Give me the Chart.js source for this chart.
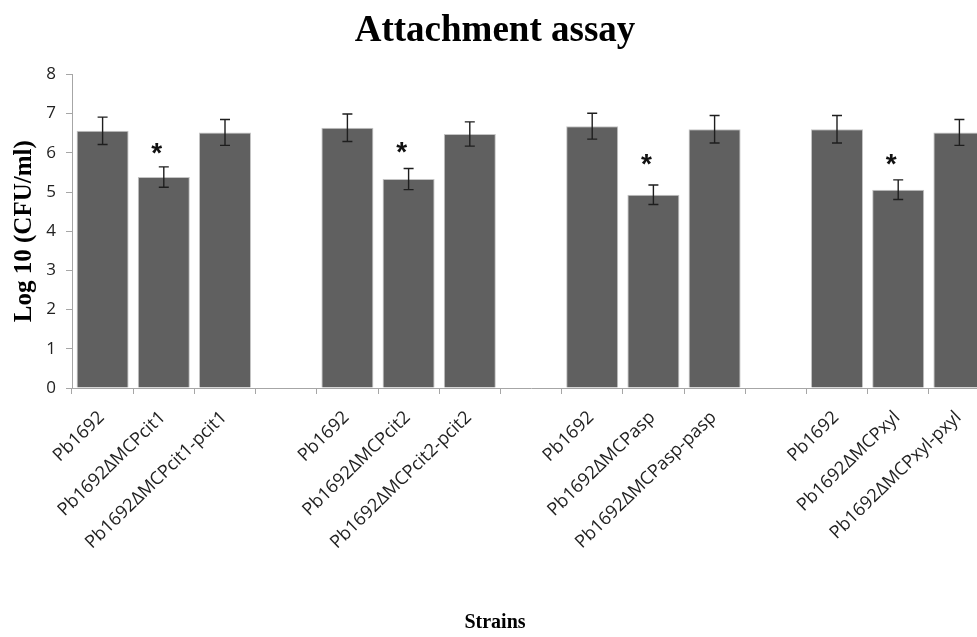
<!DOCTYPE html>
<html>
<head>
<meta charset="utf-8">
<script src="https://cdn.jsdelivr.net/npm/chart.js@4.4.1/dist/chart.umd.min.js"></script>
<style>
    html, body { margin: 0; padding: 0; background: #fff; overflow: hidden; }
    #wrap { width: 994px; height: 637px; }
</style>
</head>
<body>
<div id="wrap"><canvas id="myChart" width="994" height="637"></canvas></div>
<script>
// strains, blank entries are the gaps between groups
const categories = [
    'Pb1692', 'Pb1692ΔMCPcit1', 'Pb1692ΔMCPcit1-pcit1', '',
    'Pb1692', 'Pb1692ΔMCPcit2', 'Pb1692ΔMCPcit2-pcit2', '',
    'Pb1692', 'Pb1692ΔMCPasp', 'Pb1692ΔMCPasp-pasp', '',
    'Pb1692', 'Pb1692ΔMCPxyl', 'Pb1692ΔMCPxyl-pxyl'
];
const logCfu = [6.56, 5.38, 6.52, null, 6.64, 5.33, 6.48, null, 6.68, 4.93, 6.60, null, 6.60, 5.06, 6.52];
const errBars = [0.35, 0.26, 0.33, null, 0.35, 0.27, 0.31, null, 0.33, 0.25, 0.35, null, 0.35, 0.25, 0.33];
// where the significance asterisks sit (y value), null = none
const starAt = [null, 6.09, null, null, null, 6.11, null, null, null, 5.81, null, null, null, 5.81, null];
const yTicks = [0, 1, 2, 3, 4, 5, 6, 7, 8];

const errorBarPlugin = {
    id: 'errorBars',
    afterDatasetsDraw(chart) {
        const ctx = chart.ctx;
        const meta = chart.getDatasetMeta(0);
        const yScale = chart.scales.y;
        ctx.save();
        ctx.strokeStyle = '#1e1e1e';
        ctx.lineWidth = 1.4;
        meta.data.forEach((bar, i) => {
            if (logCfu[i] == null || errBars[i] == null) return;
            const top = yScale.getPixelForValue(logCfu[i] + errBars[i]);
            const bot = yScale.getPixelForValue(logCfu[i] - errBars[i]);
            const x = bar.x;
            ctx.beginPath();
            ctx.moveTo(x, top); ctx.lineTo(x, bot);
            ctx.moveTo(x - 5, top); ctx.lineTo(x + 5, top);
            ctx.moveTo(x - 5, bot); ctx.lineTo(x + 5, bot);
            ctx.stroke();
        });
        // asterisks
        ctx.fillStyle = '#111';
        ctx.font = 'bold 28px "Liberation Sans"';
        ctx.textAlign = 'center';
        ctx.textBaseline = 'middle';
        meta.data.forEach((bar, i) => {
            if (starAt[i] == null) return;
            ctx.fillText('*', bar.x - 7, yScale.getPixelForValue(starAt[i]) + 5);
        });
        ctx.restore();
    }
};

const ctx = document.getElementById('myChart').getContext('2d');
new Chart(ctx, {
    type: 'bar',
    data: {
        labels: categories,
        datasets: [{
            label: 'Attachment',
            data: logCfu,
            backgroundColor: '#606060',
            borderColor: '#c4c4c4',
            borderWidth: 1,
            barPercentage: 0.85,
            categoryPercentage: 1.0
        }]
    },
    options: {
        responsive: false,
        animation: false,
        layout: { padding: { left: 0, right: 4, top: 0, bottom: 0 } },
        plugins: {
            legend: { display: false },
            tooltip: { enabled: false },
            title: {
                display: true,
                text: 'Attachment assay',
                color: '#000',
                font: { family: '"Liberation Serif", serif', size: 37, weight: 'bold' },
                padding: { top: 9, bottom: 21 }
            },
            // x axis title, centred on the whole picture like the original
            subtitle: {
                display: true,
                position: 'bottom',
                text: 'Strains',
                color: '#000',
                font: { family: '"Liberation Serif", serif', size: 20, weight: 'bold' },
                padding: { top: 4, bottom: 2 }
            }
        },
        scales: {
            x: {
                offset: true,
                border: { color: '#a6a6a6', width: 1 },
                grid: { display: true, drawOnChartArea: false, drawTicks: true, tickLength: 6, color: '#a6a6a6', offset: true },
                ticks: {
                    autoSkip: false,
                    maxRotation: 44,
                    minRotation: 44,
                    padding: 13,
                    labelOffset: -1,
                    color: '#222',
                    font: { family: '"Open Sans", sans-serif', size: 18 }
                },
                afterFit(scale) { scale.height = 219; }
            },
            y: {
                min: 0,
                max: 8,
                border: { color: '#a6a6a6', width: 1 },
                grid: { display: true, drawOnChartArea: false, drawTicks: true, tickLength: 6, color: '#a6a6a6' },
                afterBuildTicks(scale) { scale.ticks = yTicks.map(v => ({ value: v })); },
                ticks: {
                    padding: 10,
                    color: '#222',
                    font: { family: '"Open Sans", sans-serif', size: 17 }
                },
                title: {
                    display: true,
                    text: 'Log 10 (CFU/ml)',
                    color: '#000',
                    font: { family: '"Liberation Serif", serif', size: 25, weight: 'bold' },
                    padding: { top: 10, bottom: 0 }
                },
                afterFit(scale) { scale.width = 72; }
            }
        }
    },
    plugins: [errorBarPlugin]
});
</script>
</body>
</html>
